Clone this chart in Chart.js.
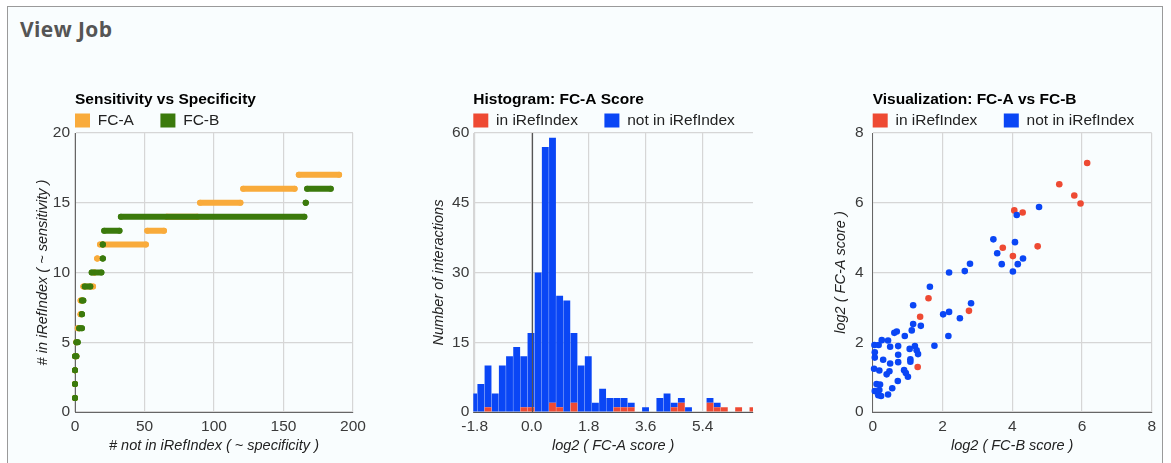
<!DOCTYPE html>
<html>
<head>
<meta charset="utf-8">
<title>View Job</title>
<script src="https://cdn.jsdelivr.net/npm/chart.js@4.4.1/dist/chart.umd.min.js"></script>
<style>
  html, body { margin:0; padding:0; background:#ffffff; }
  body { width:1171px; height:463px; overflow:hidden; position:relative; }
  #frame { position:absolute; left:7px; top:6px; width:1156px; height:480px; border:1.5px solid #9a9a9a; border-bottom:none; background:#f9fdfe; box-sizing:border-box; }
  #heading { position:absolute; left:20px; top:15px; margin:0; font-family:'Open Sans', sans-serif; font-weight:700; font-size:21px; letter-spacing:0.4px; line-height:normal; color:#555; }
  canvas { position:absolute; }
</style>
</head>
<body>
<div id="frame"></div>
<h1 id="heading">View Job</h1>
<canvas id="c1" width="360" height="370" style="left:28px;top:88px"></canvas>
<canvas id="c2" width="370" height="370" style="left:420px;top:88px"></canvas>
<canvas id="c3" width="346" height="370" style="left:820px;top:88px"></canvas>
<script>
// ---------------- data ----------------
// Chart 1: Sensitivity vs Specificity — runs of points [y, xStart, xEnd]
const sensTitle = 'Sensitivity vs Specificity';
const sensSeries = ['FC-A', 'FC-B'];
const fcaRuns = [
  [1,0,0],[2,0,0],[3,0,0],[4,0,1],[5,1,1],[6,2,3],[7,4,4],[8,4,5],[9,6,13],[10,14,14],
  [11,16,16],[12,18,51],[13,52,64],[14,66,88],[15,90,119],[16,121,158],[17,161,190]
];
const fcbRuns = [
  [1,0,0],[2,0,0],[3,0,0],[4,0,1],[5,1,2],[6,3,5],[7,5,5],[8,5,6],[9,7,11],[10,12,19],
  [11,20,20],[12,20,20],[13,21,32],[14,33,165],[15,166,166],[16,167,184]
];
const sensXTicks = [0, 50, 100, 150, 200];
const sensYTicks = [0, 5, 10, 15, 20];
const sensXTitle = '# not in iRefIndex ( ~ specificity )';
const sensYTitle = '# in iRefIndex ( ~ sensitivity )';

// Chart 2: Histogram of FC-A score (bin centres, counts)
const histTitle = 'Histogram: FC-A Score';
const histSeries = ['in iRefIndex', 'not in iRefIndex'];
const histBins = [-1.831,-1.605,-1.379,-1.153,-0.927,-0.700,-0.474,-0.248,-0.022,0.204,
  0.430,0.657,0.883,1.109,1.335,1.561,1.787,2.013,2.240,2.466,
  2.692,2.918,3.144,3.370,3.596,3.823,4.049,4.275,4.501,4.727,
  4.953,5.179,5.406,5.632,5.858,6.084,6.310,6.536,6.763,6.989];
const histIn    = [0,0,1,0,0,0,0,1,1,0, 0,2,1,0,2,0,0,0,0,0, 1,1,1,0,0,0,0,0,1,2, 0,0,0,2,1,1,0,1,0,1];
const histNotIn = [4,6,9,4,10,12,14,11,16,30, 57,57,24,24,15,10,12,2,5,3, 2,2,1,0,1,0,3,4,1,1, 1,0,0,1,1,0,0,0,0,0];
const histXTicks = [-1.8, 0, 1.8, 3.6, 5.4];
const histYTicks = [0, 15, 30, 45, 60];
const histXTitle = 'log2 ( FC-A score )';
const histYTitle = 'Number of interactions';

// Chart 3: FC-A vs FC-B scatter [log2 FC-B, log2 FC-A]
const vizTitle = 'Visualization: FC-A vs FC-B';
const vizSeries = ['in iRefIndex', 'not in iRefIndex'];
const vizIn = [[6.15,7.14],[5.35,6.53],[5.78,6.21],[5.96,5.98],[4.06,5.78],[4.30,5.72],[3.73,4.71],
  [4.73,4.75],[4.02,4.47],[1.60,3.26],[1.36,2.73],[2.76,2.90],[1.29,1.29]];
const vizNotIn = [[4.77,5.88],[4.13,5.65],[3.46,4.95],[4.08,4.87],[3.57,4.55],[3.70,4.24],[4.16,4.24],
  [4.31,4.40],[2.79,4.25],[2.64,4.04],[2.19,4.00],[4.02,4.03],
  [1.64,3.59],[1.16,3.06],[2.82,3.12],[2.02,2.80],[2.19,2.87],[2.50,2.69],[1.16,2.52],[1.38,2.47],
  [1.12,2.34],[0.69,2.31],[0.62,2.27],[0.92,2.18],[2.17,2.18],[1.77,1.90],[0.26,2.06],[0.44,2.05],
  [0.05,1.92],[0.17,1.92],[0.50,1.87],[0.73,1.89],[1.06,1.81],[1.21,1.89],[1.26,1.77],[1.30,1.66],
  [0.06,1.71],[0.06,1.56],[0.30,1.50],[0.73,1.64],[0.73,1.43],[0.50,1.39],[1.08,1.51],[1.08,1.44],
  [0.04,1.24],[0.19,1.19],[0.90,1.20],[0.95,1.12],[1.01,1.01],[0.40,1.08],[0.48,1.17],[0.72,0.89],
  [0.56,0.68],[0.11,0.80],[0.21,0.79],[0.06,0.60],[0.19,0.63],[0.16,0.48],[0.24,0.46],[0.44,0.50]];
const vizTicks = [0, 2, 4, 6, 8];
const vizXTitle = 'log2 ( FC-B score )';
const vizYTitle = 'log2 ( FC-A score )';

// ---------------- styling ----------------
const FONT = "'Liberation Sans', Arial, Helvetica, sans-serif";
Chart.defaults.font.family = FONT;
Chart.defaults.color = '#333';
const C = { orange:'#f9ab3b', green:'#3b7a0c', red:'#ee4a33', blue:'#0a46f5',
            grid:'#d6d6d6', base:'#666666', tick:'#3a3a3a', text:'#222222' };

// place title and legend flush with the plot's left edge (Google-chart style)
const headerPlacer = {
  id: 'headerPlacer',
  afterLayout(chart, args, opts) {
    const area = chart.chartArea;
    const t = chart.titleBlock;
    if (t) { const w = t.right - t.left; t.left = area.left; t.right = t.left + w; }
    const lg = chart.legend;
    if (lg) {
      const pad = lg.options.labels.padding;
      const dx = area.left - pad - lg.left;
      lg.left += dx; lg.right += dx;
      lg.top = opts.legendRowTop - pad;
      lg.bottom = lg.top + 80;
    }
  }
};

// dark baseline at x = 0 drawn above the bars
const zeroLine = {
  id: 'zeroLine',
  afterDatasetsDraw(chart, args, opts) {
    const x = Math.round(chart.scales.x.getPixelForValue(0)) + 0.5;
    const { top, bottom } = chart.chartArea;
    const ctx = chart.ctx;
    ctx.save();
    ctx.strokeStyle = opts.color; ctx.lineWidth = opts.width;
    ctx.beginPath(); ctx.moveTo(x, top); ctx.lineTo(x, bottom); ctx.stroke();
    ctx.restore();
  }
};

function axis(o) {
  return {
    type: 'linear', min: o.min, max: o.max, offset: false, stacked: !!o.stacked,
    afterBuildTicks: s => { s.ticks = o.ticks.map(v => ({ value: v })); },
    afterFit: s => { if (o.width != null) s.width = o.width; if (o.height != null) s.height = o.height; },
    grid: { color: o.gridColor || C.grid, lineWidth: 1.2, drawTicks: false, offset: false },
    border: { display: true, color: o.borderColor, width: 1 },
    ticks: { padding: o.pad, color: C.tick, font: { size: 15.5 }, maxRotation: 0, autoSkip: false,
             callback: o.fmt || (v => String(v)) },
    title: { display: true, text: o.title, color: C.text, font: { size: 14.5, style: 'italic' }, padding: o.titlePad }
  };
}

function header(text) {
  return {
    title: { display: true, text, align: 'start', color: '#000', font: { size: 15.5, weight: 'bold' },
             padding: { top: 2, bottom: 0 } },
    legend: { display: true, align: 'start', maxHeight: 24.4,
      labels: { boxWidth: 15, boxHeight: 14, padding: 26.5, color: C.text, font: { size: 15.5 },
        sort: (a, b) => a.datasetIndex - b.datasetIndex,
        generateLabels: ch => Chart.defaults.plugins.legend.labels.generateLabels(ch)
                                .map(l => Object.assign(l, { lineWidth: 0 })) } },
    tooltip: { enabled: false },
    headerPlacer: { legendRowTop: 24.75 }
  };
}

function runsToPoints(runs) {
  const pts = [];
  runs.forEach(([y, x0, x1]) => { pts.push({ x: x0, y }, { x: x1, y }, { x: x1, y: null }); });
  return pts;
}

function runDataset(label, runs, color, order) {
  return { label, data: runsToPoints(runs), showLine: true, spanGaps: false, tension: 0,
    borderColor: color, backgroundColor: color, borderWidth: 6, borderCapStyle: 'round', borderJoinStyle: 'round',
    pointRadius: 3, pointHoverRadius: 3, pointBorderWidth: 0, pointBackgroundColor: color,
    fill: false, clip: 8, order };
}

// ---------------- chart 1 ----------------
new Chart(document.getElementById('c1'), {
  type: 'scatter',
  data: { datasets: [
    runDataset(sensSeries[0], fcaRuns, C.orange, 2),
    runDataset(sensSeries[1], fcbRuns, C.green, 1)
  ]},
  options: {
    responsive: false, animation: false, events: [],
    layout: { padding: { left: 0, right: 35, top: 0, bottom: 0 } },
    scales: {
      x: axis({ min: 0, max: 200, ticks: sensXTicks, height: 46, pad: 5, borderColor: C.base,
                title: sensXTitle, titlePad: { top: 0, bottom: 3.3 } }),
      y: axis({ min: 0, max: 20, ticks: sensYTicks, width: 47, pad: 5, borderColor: C.base,
                title: sensYTitle, titlePad: { top: 5.8, bottom: 0 } })
    },
    plugins: header(sensTitle)
  },
  plugins: [headerPlacer]
});

// ---------------- chart 2 ----------------
new Chart(document.getElementById('c2'), {
  type: 'bar',
  data: { datasets: [
    { label: histSeries[0], data: histBins.map((x, i) => ({ x, y: histIn[i] })), backgroundColor: C.red,
      borderWidth: 0, barPercentage: 0.96, categoryPercentage: 1 },
    { label: histSeries[1], data: histBins.map((x, i) => ({ x, y: histNotIn[i] })), backgroundColor: C.blue,
      borderWidth: 0, barPercentage: 0.96, categoryPercentage: 1 }
  ]},
  options: {
    responsive: false, animation: false, events: [],
    layout: { padding: { left: 0, right: 37, top: 0, bottom: 0 } },
    scales: {
      x: axis({ min: -1.844, max: 6.99, ticks: histXTicks, stacked: true, height: 46, pad: 5, borderColor: '#555',
                fmt: v => v.toFixed(1), title: histXTitle, titlePad: { top: 0, bottom: 3.3 } }),
      y: axis({ min: 0, max: 60, ticks: histYTicks, stacked: true, width: 53.3, pad: 4, borderColor: C.grid,
                title: histYTitle, titlePad: { top: 10.3, bottom: 0 } })
    },
    plugins: Object.assign(header(histTitle), { zeroLine: { color: '#555', width: 1.2 } })
  },
  plugins: [headerPlacer, zeroLine]
});

// ---------------- chart 3 ----------------
new Chart(document.getElementById('c3'), {
  type: 'scatter',
  data: { datasets: [
    { label: vizSeries[0], data: vizIn.map(([x, y]) => ({ x, y })), backgroundColor: C.red, borderColor: C.red,
      pointRadius: 3.3, pointHoverRadius: 3.3, pointBorderWidth: 0, borderWidth: 0, clip: 8, order: 2 },
    { label: vizSeries[1], data: vizNotIn.map(([x, y]) => ({ x, y })), backgroundColor: C.blue, borderColor: C.blue,
      pointRadius: 3.3, pointHoverRadius: 3.3, pointBorderWidth: 0, borderWidth: 0, clip: 8, order: 1 }
  ]},
  options: {
    responsive: false, animation: false, events: [],
    layout: { padding: { left: 0, right: 14.3, top: 0, bottom: 0 } },
    scales: {
      x: axis({ min: 0, max: 8, ticks: vizTicks, height: 46, pad: 5, borderColor: C.base,
                title: vizXTitle, titlePad: { top: 0, bottom: 3.3 } }),
      y: axis({ min: 0, max: 8, ticks: vizTicks, width: 52.7, pad: 9, borderColor: C.base,
                title: vizYTitle, titlePad: { top: 12.6, bottom: 0 } })
    },
    plugins: header(vizTitle)
  },
  plugins: [headerPlacer]
});
</script>
</body>
</html>
